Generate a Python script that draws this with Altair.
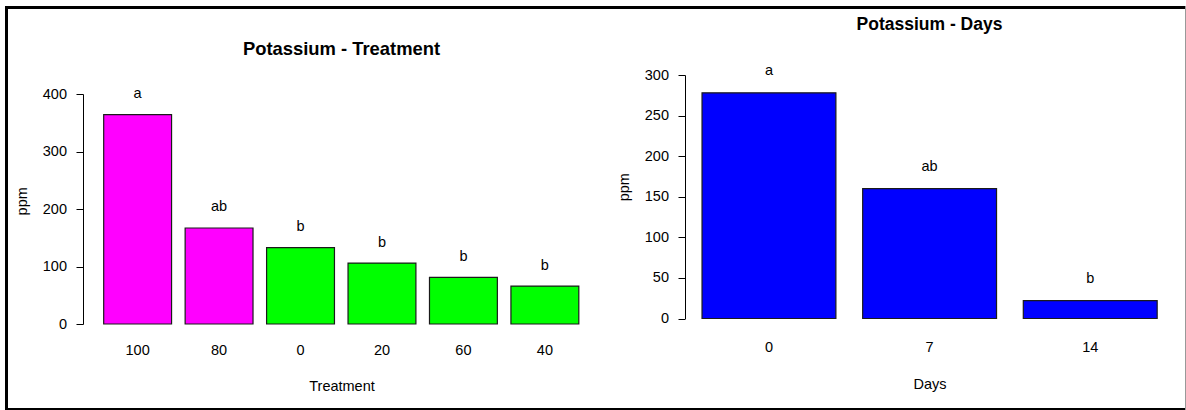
import altair as alt
import pandas as pd

# Potassium (ppm) by fertiliser treatment, with mean-separation letters
treatments = ["100", "80", "0", "20", "60", "40"]
treat_ppm = [364, 167, 133, 106, 81, 66]
treat_letters = ["a", "ab", "b", "b", "b", "b"]
treat_fill = ["#FF00FF", "#FF00FF", "#00FF00", "#00FF00", "#00FF00", "#00FF00"]

# Potassium (ppm) by days after application
days = ["0", "7", "14"]
days_ppm = [278, 160, 22]
days_letters = ["a", "ab", "b"]
days_fill = "#0000FF"

treat_ticks = [0, 100, 200, 300, 400]
days_ticks = [0, 50, 100, 150, 200, 250, 300]

W, H = 1186, 410
FONT = "Liberation Sans"
FS = 14.5

treat_df = pd.DataFrame({"Treatment": treatments, "ppm": treat_ppm,
                         "letter": treat_letters, "fill": treat_fill})
days_df = pd.DataFrame({"Days": days, "ppm": days_ppm, "letter": days_letters})


def y_axis(ticks, axis_x, title_y):
    return alt.Axis(orient="left", offset=-axis_x, values=ticks, grid=False,
                    tickSize=7, tickColor="black", domainColor="black",
                    labelPadding=9.5, labelColor="black", labelFont=FONT,
                    labelFontSize=FS, title="ppm", titleFont=FONT,
                    titleFontSize=FS, titleFontWeight="normal",
                    titleColor="black", titleAngle=270, titleAlign="center",
                    titleBaseline="alphabetic", titleX=-56.5, titleY=title_y)


def x_axis(base_y, label_pad, title, title_x, title_base):
    return alt.Axis(orient="bottom", offset=-(H - base_y), domain=False,
                    ticks=False, tickSize=0, labelAngle=0, grid=False,
                    labelPadding=label_pad, labelColor="black", labelFont=FONT,
                    labelFontSize=FS, title=title, titleFont=FONT,
                    titleFontSize=FS, titleFontWeight="normal",
                    titleColor="black", titleAlign="center",
                    titleBaseline="alphabetic", titleX=title_x,
                    titleY=title_base - base_y)


# ---- left panel: treatment ----
tx = alt.X("Treatment:N", sort=treatments,
           scale=alt.Scale(range=[83, 599.5], paddingInner=1 / 6, paddingOuter=0.254),
           axis=x_axis(324, 19.5, "Treatment", 341.5, 390))
ty = alt.Y("ppm:Q",
           scale=alt.Scale(domain=[0, 400], range=[324, 94], nice=False, zero=True),
           axis=y_axis(treat_ticks, 83, 200.8))

treat_bars = alt.Chart(treat_df).mark_bar(stroke="#1a1a1a", strokeWidth=1.2).encode(
    x=tx, y=ty, fill=alt.Fill("fill:N", scale=None))
treat_text = alt.Chart(treat_df).mark_text(
    dy=-20.5, baseline="middle", font=FONT, fontSize=FS, color="black").encode(
    x=tx, y=ty, text="letter:N")
treat_layer = alt.layer(treat_bars, treat_text)

# ---- right panel: days ----
dx = alt.X("Days:N", sort=days,
           scale=alt.Scale(range=[685, 1174.2], paddingInner=1 / 6, paddingOuter=0.106),
           axis=x_axis(318.5, 22.3, "Days", 929.5, 388))
dy = alt.Y("ppm:Q",
           scale=alt.Scale(domain=[0, 300], range=[318.5, 75], nice=False, zero=True),
           axis=y_axis(days_ticks, 685, 186.7))

days_bars = alt.Chart(days_df).mark_bar(
    color=days_fill, stroke="#1a1a1a", strokeWidth=1.2).encode(x=dx, y=dy)
days_text = alt.Chart(days_df).mark_text(
    dy=-21.5, baseline="middle", font=FONT, fontSize=FS, color="black").encode(
    x=dx, y=dy, text="letter:N")
days_layer = alt.layer(days_bars, days_text)

# ---- panel titles ----
titles_df = pd.DataFrame({"t": ["Potassium - Treatment"]})
title_left = alt.Chart(titles_df).mark_text(
    font=FONT, fontSize=18.4, fontWeight="bold", baseline="alphabetic",
    align="center", color="black").encode(
    x=alt.value(341.5), y=alt.value(55), text="t:N")
title_right = alt.Chart(pd.DataFrame({"t": ["Potassium - Days"]})).mark_text(
    font=FONT, fontSize=17.5, fontWeight="bold", baseline="alphabetic",
    align="center", color="black").encode(
    x=alt.value(929.5), y=alt.value(29.5), text="t:N")

# ---- outer frame ----
one = pd.DataFrame({"k": [0]})
frame_top = alt.Chart(one).mark_rule(color="black", strokeWidth=3).encode(
    x=alt.value(5), x2=alt.value(W), y=alt.value(7.5))
frame_left = alt.Chart(one).mark_rule(color="black", strokeWidth=3).encode(
    x=alt.value(6.5), y=alt.value(6), y2=alt.value(H))
frame_bottom = alt.Chart(one).mark_rule(color="black", strokeWidth=2).encode(
    x=alt.value(5), x2=alt.value(W), y=alt.value(409))
frame_right = alt.Chart(one).mark_rule(color="#999999", strokeWidth=1).encode(
    x=alt.value(1185.5), y=alt.value(6), y2=alt.value(H))

chart = alt.layer(
    treat_layer, days_layer, title_left, title_right,
    frame_top, frame_left, frame_bottom, frame_right,
).resolve_scale(
    x="independent", y="independent"
).properties(
    width=W, height=H, padding=0, background="white",
    autosize=alt.AutoSizeParams(type="none"),
).configure_view(stroke=None)

chart.save("out.html", embed_options={"renderer": "svg", "actions": False})
